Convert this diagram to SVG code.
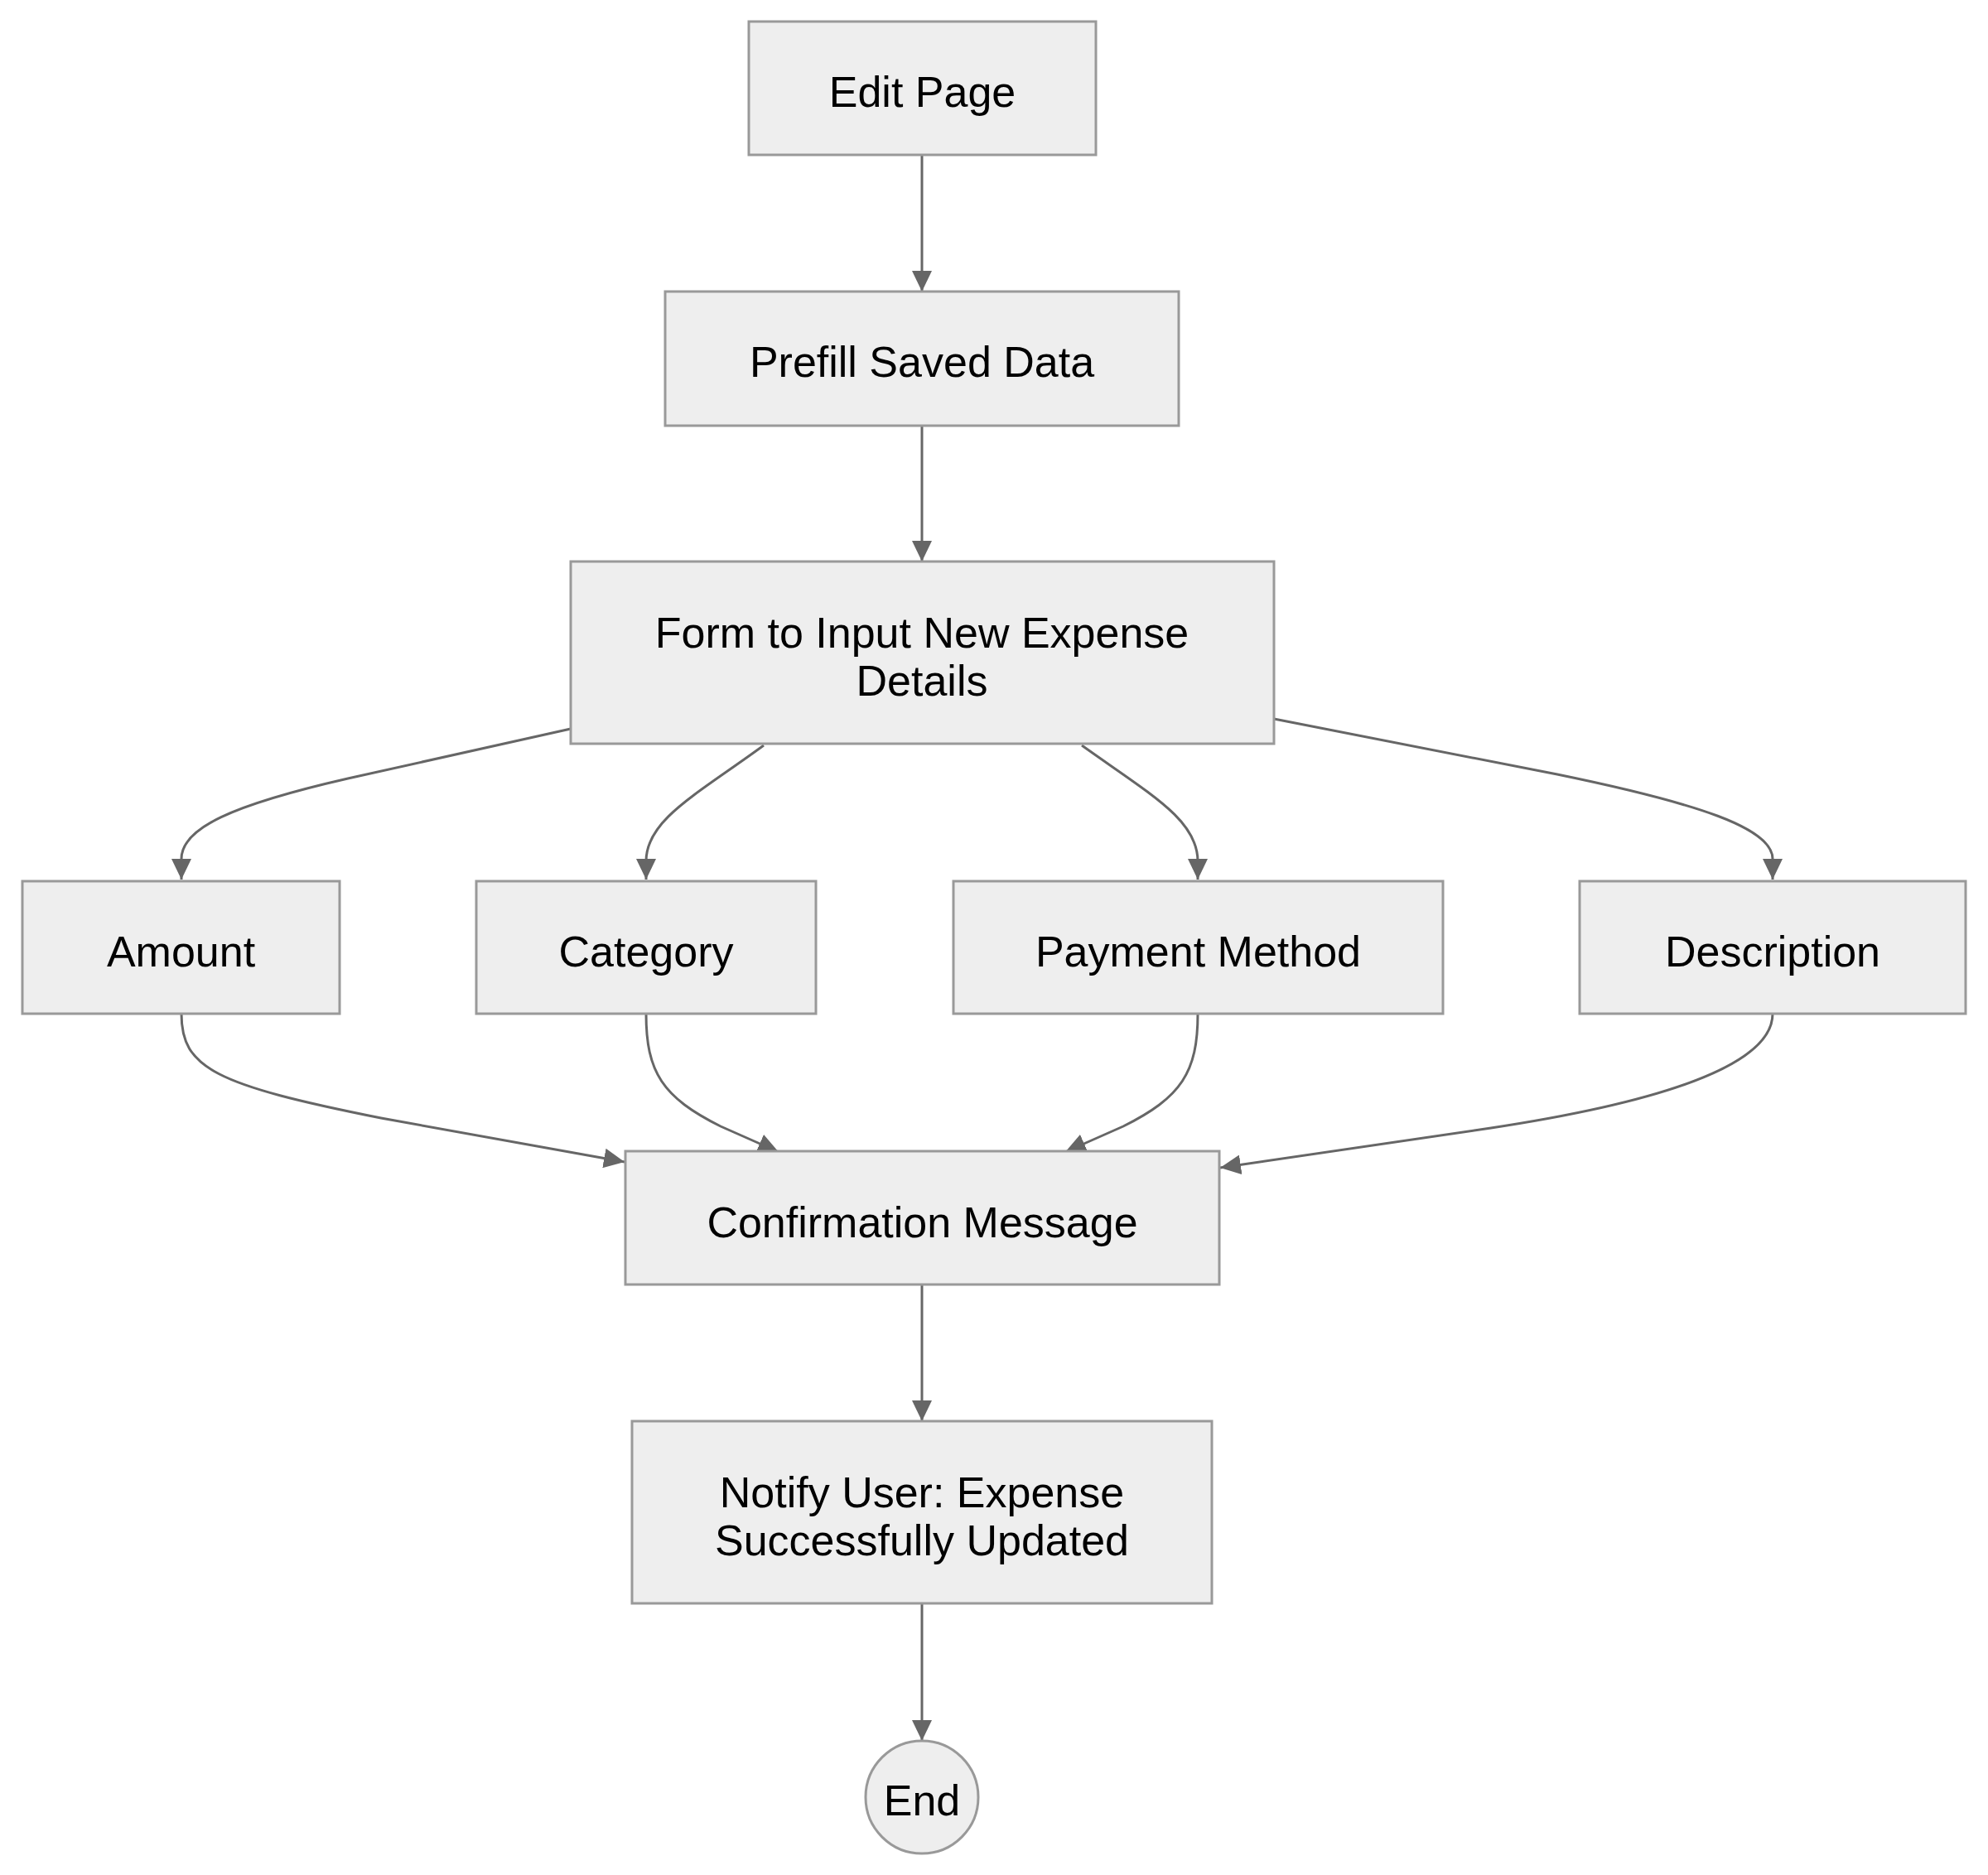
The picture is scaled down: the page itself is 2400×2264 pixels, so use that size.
<svg xmlns="http://www.w3.org/2000/svg" width="2400" height="2264" viewBox="0 0 2400 2264">
<defs>
<style>
.node rect, .node circle { fill: #eeeeee; stroke: #999999; stroke-width: 3; }
.node text { font-family: "Liberation Sans", Arial, sans-serif; font-size: 52px; fill: #000000; text-anchor: middle; }
.edges path { fill: none; stroke: #666666; stroke-width: 3; }
</style>
<marker id="arrow" markerUnits="userSpaceOnUse" markerWidth="26" markerHeight="24" refX="25" refY="12" orient="auto" viewBox="0 0 26 24">
<path d="M0,0 L25,12 L0,24 z" fill="#666666"/>
</marker>
</defs>
<rect width="2400" height="2264" fill="#ffffff"/>
<g class="edges">
<path d="M1113,187 L1113,352" marker-end="url(#arrow)"/>
<path d="M1113,514 L1113,678" marker-end="url(#arrow)"/>
<path d="M689,880 L420,940 C280,972 219,1000 219,1037 L219,1062" marker-end="url(#arrow)"/>
<path d="M922,900 C840,960 780,990 780,1040 L780,1062" marker-end="url(#arrow)"/>
<path d="M1306,900 C1390,960 1446,990 1446,1040 L1446,1062" marker-end="url(#arrow)"/>
<path d="M1538,868 L1880,935 C2050,970 2140,1000 2140,1037 L2140,1062" marker-end="url(#arrow)"/>
<path d="M219,1224 C219,1290 260,1310 460,1350 L754,1403" marker-end="url(#arrow)"/>
<path d="M780,1224 C780,1295 800,1325 870,1360 L940,1391" marker-end="url(#arrow)"/>
<path d="M1446,1224 C1446,1295 1426,1325 1356,1360 L1286,1391" marker-end="url(#arrow)"/>
<path d="M2140,1224 C2140,1285 2010,1330 1800,1362 L1473,1410" marker-end="url(#arrow)"/>
<path d="M1113,1551 L1113,1716" marker-end="url(#arrow)"/>
<path d="M1113,1936 L1113,2102" marker-end="url(#arrow)"/>
</g>
<g id="edit-page" class="node"><rect x="904" y="26" width="419" height="161"/><text x="1113.5" y="129">Edit Page</text></g>
<g id="prefill" class="node"><rect x="803" y="352" width="620" height="162"/><text x="1113" y="455">Prefill Saved Data</text></g>
<g id="form" class="node"><rect x="689" y="678" width="849" height="220"/><text x="1113" y="782">Form to Input New Expense</text><text x="1113" y="840">Details</text></g>
<g id="amount" class="node"><rect x="27" y="1064" width="383" height="160"/><text x="218.5" y="1167">Amount</text></g>
<g id="category" class="node"><rect x="575" y="1064" width="410" height="160"/><text x="780" y="1167">Category</text></g>
<g id="payment" class="node"><rect x="1151" y="1064" width="591" height="160"/><text x="1446.5" y="1167">Payment Method</text></g>
<g id="description" class="node"><rect x="1907" y="1064" width="466" height="160"/><text x="2140" y="1167">Description</text></g>
<g id="confirmation" class="node"><rect x="755" y="1390" width="717" height="161"/><text x="1113.5" y="1494">Confirmation Message</text></g>
<g id="notify" class="node"><rect x="763" y="1716" width="700" height="220"/><text x="1113" y="1820">Notify User: Expense</text><text x="1113" y="1878">Successfully Updated</text></g>
<g id="end" class="node"><circle cx="1113" cy="2170" r="68"/><text x="1113" y="2192">End</text></g>
</svg>
